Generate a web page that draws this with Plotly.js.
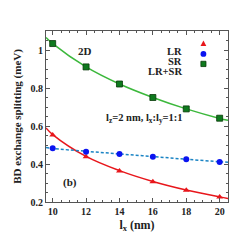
<!DOCTYPE html>
<html><head><meta charset="utf-8">
<script src="https://cdn.plot.ly/plotly-3.0.1.min.js"></script>
<style>html,body{margin:0;padding:0;background:#fff}#chart{width:245px;height:245px}</style>
</head><body><div id="chart"></div>
<script>
const lx = [10, 12, 14, 16, 18, 20];
const LR = [0.553, 0.438, 0.363, 0.306, 0.262, 0.226];
const SR = [0.483, 0.465, 0.453, 0.438, 0.425, 0.410];
const LRSR = [1.034, 0.911, 0.821, 0.750, 0.690, 0.641];
const fitX = [9.6, 10, 12, 14, 16, 18, 20, 20.5];
const fitLR = [0.590, 0.555, 0.440, 0.365, 0.308, 0.263, 0.227, 0.219];
const fitSR = [0.487, 0.482, 0.467, 0.453, 0.439, 0.425, 0.412, 0.409];
const fitLRSR = [1.066, 1.034, 0.911, 0.821, 0.750, 0.690, 0.640, 0.630];
const legendNames = ['LR', 'SR', 'LR+SR'];

const font = 'Liberation Serif, Times New Roman, serif';
const traces = [
  {x: fitX, y: fitLR, mode: 'lines', line: {color: '#e8161b', width: 1.5, shape: 'spline'}},
  {x: fitX, y: fitSR, mode: 'lines', line: {color: '#1a84c4', width: 1.5, dash: '3px,2px', shape: 'spline'}},
  {x: fitX, y: fitLRSR, mode: 'lines', line: {color: '#3cb83c', width: 1.5, shape: 'spline'}},
  {x: lx, y: LR, mode: 'markers', marker: {symbol: 'triangle-up', size: 6, color: '#e8161b'}},
  {x: lx, y: SR, mode: 'markers', marker: {symbol: 'circle', size: 6, color: '#0a14f0'}},
  {x: lx, y: LRSR, mode: 'markers', marker: {symbol: 'square', size: 6, color: '#0e7a1e', line: {color: '#0a3a0a', width: 0.8}}}
];

const ax = {
  showgrid: false, zeroline: false, showline: true, linecolor: '#555', linewidth: 1,
  mirror: 'allticks', ticks: 'inside', ticklen: 4, tickcolor: '#555',
  tickfont: {family: font, size: 10, color: '#222', weight: 'bold'}
};
const layout = {
  width: 245, height: 245, showlegend: false,
  margin: {l: 46, r: 17, t: 31, b: 43},
  paper_bgcolor: '#fff', plot_bgcolor: '#fff',
  xaxis: Object.assign({}, ax, {range: [9.6, 20.5], tickvals: [10, 12, 14, 16, 18, 20],
    minor: {dtick: 0.5, ticks: 'inside', ticklen: 2, tickcolor: '#555'},
    title: {text: 'l<sub>x</sub> (nm)', standoff: 4, font: {family: font, size: 12, color: '#222', weight: 'bold'}}}),
  yaxis: Object.assign({}, ax, {range: [0.2, 1.1], tickvals: [0.2, 0.4, 0.6, 0.8, 1], ticktext: ['0.2', '0.4', '0.6', '0.8', '1'],
    minor: {dtick: 0.05, ticks: 'inside', ticklen: 2, tickcolor: '#555'},
    title: {text: 'BD exchange splitting (meV)', standoff: 6, font: {family: font, size: 11, color: '#222', weight: 'bold'}}}),
  annotations: [
    {xref: 'paper', yref: 'paper', x: 0.165, y: 0.93, text: '<b>2D</b>', showarrow: false, font: {family: font, size: 11, color: '#222'}},
    {xref: 'paper', yref: 'paper', x: 0.085, y: 0.063, text: '<b>(b)</b>', showarrow: false, font: {family: font, size: 11, color: '#222'}},
    {xref: 'paper', yref: 'paper', x: 0.32, y: 0.49, text: '<b>l<sub>z</sub>=2 nm, l<sub>x</sub>:l<sub>y</sub>=1:1</b>', showarrow: false, font: {family: font, size: 10.5, color: '#222'}},
    {xref: 'paper', yref: 'paper', x: 0.76, y: 0.925, xanchor: 'right', text: '<b>' + legendNames[0] + '</b>', showarrow: false, font: {family: font, size: 10.5, color: '#222'}},
    {xref: 'paper', yref: 'paper', x: 0.76, y: 0.866, xanchor: 'right', text: '<b>' + legendNames[1] + '</b>', showarrow: false, font: {family: font, size: 10.5, color: '#222'}},
    {xref: 'paper', yref: 'paper', x: 0.76, y: 0.808, xanchor: 'right', text: '<b>' + legendNames[2] + '</b>', showarrow: false, font: {family: font, size: 10.5, color: '#222'}}
  ],
  shapes: [
    {type: 'path', xref: 'paper', yref: 'paper', path: 'M 0.849 0.912 L 0.881 0.912 L 0.865 0.945 Z', fillcolor: '#e8161b', line: {width: 0}},
    {type: 'circle', xref: 'paper', yref: 'paper', x0: 0.849, x1: 0.881, y0: 0.849, y1: 0.883, fillcolor: '#0a14f0', line: {width: 0}},
    {type: 'rect', xref: 'paper', yref: 'paper', x0: 0.851, x1: 0.879, y0: 0.792, y1: 0.823, fillcolor: '#0e7a1e', line: {color: '#0a3a0a', width: 0.8}}
  ]
};
Plotly.newPlot('chart', traces, layout, {displayModeBar: false, staticPlot: true});
</script></body></html>
